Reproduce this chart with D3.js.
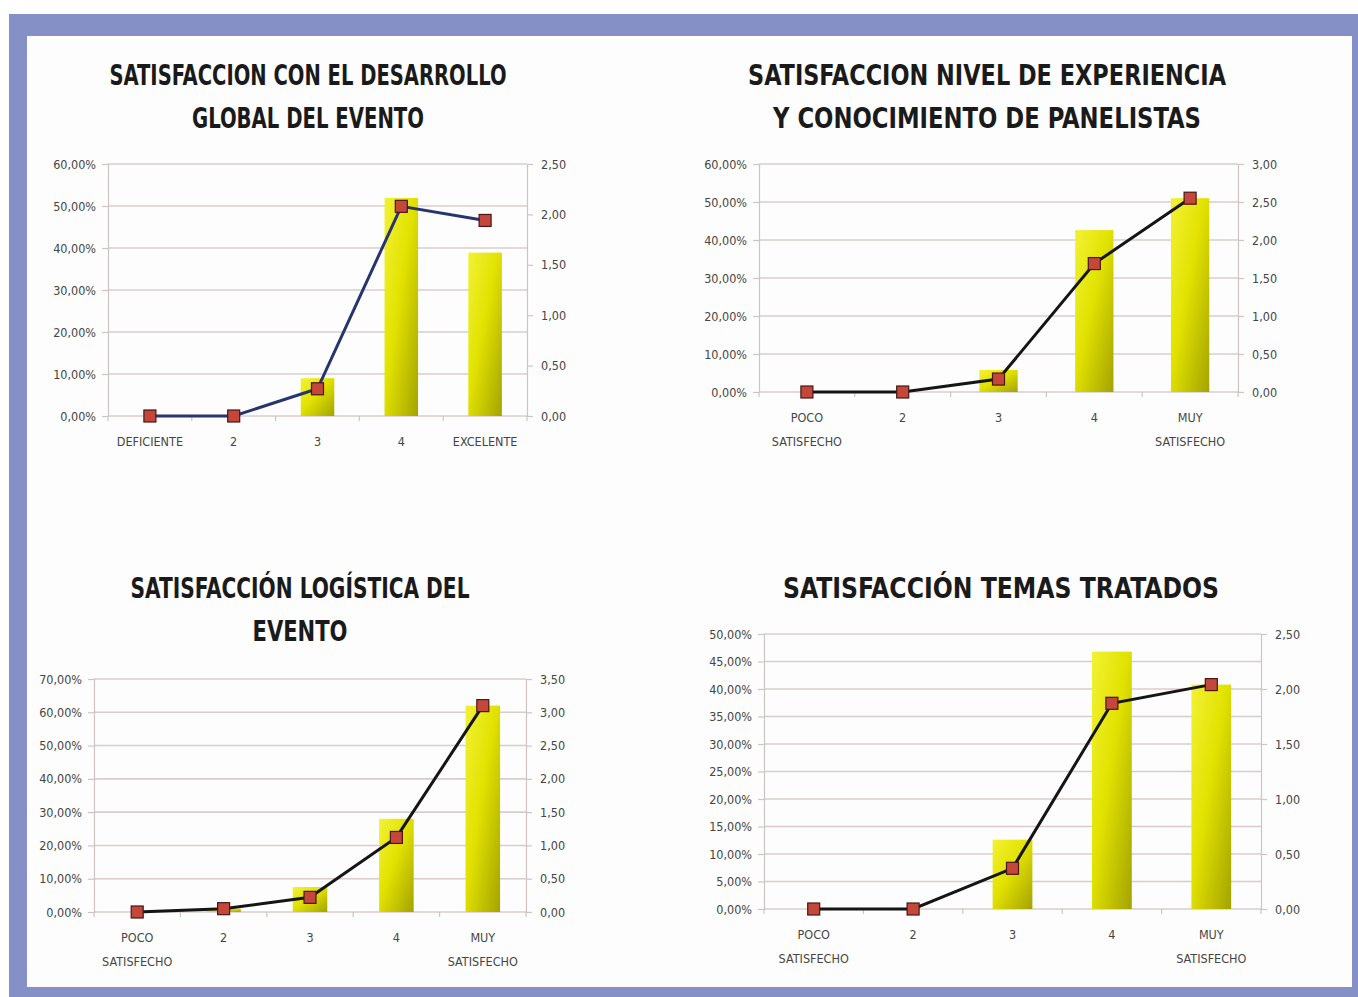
<!DOCTYPE html>
<html>
<head>
<meta charset="utf-8">
<script src="https://cdn.jsdelivr.net/npm/d3@7"></script>
<style>
  html, body { margin: 0; padding: 0; background: #ffffff; }
  svg { display: block; }
  .tick text { font-family: "Liberation Sans Narrow", "DejaVu Sans Condensed", sans-serif; font-size: 12.5px; fill: #454545; }
  .title { font-family: "Liberation Sans Narrow", "DejaVu Sans Condensed", sans-serif; font-weight: bold; font-size: 29px; fill: #1a1a1a; }
  .cat { font-family: "Liberation Sans Narrow", "DejaVu Sans Condensed", sans-serif; font-size: 12.5px; fill: #454545; }
</style>
</head>
<body>
<div id="chart"></div>
<script>
// categories
var catsGlobal = ["DEFICIENTE", "2", "3", "4", "EXCELENTE"];
var catsSatis = ["POCO|SATISFECHO", "2", "3", "4", "MUY|SATISFECHO"];

// % of answers (bars, left axis)
var pctGlobal    = [0, 0, 9.0, 51.9, 38.9];
var pctPanel     = [0, 0, 5.8, 42.6, 51.0];
var pctLogistica = [0, 1.0, 7.5, 28.0, 62.0];
var pctTemas     = [0, 0, 12.6, 46.8, 40.8];

// weighted score (line, right axis)
var scoreGlobal    = [0, 0, 0.27, 2.08, 1.94];
var scorePanel     = [0, 0, 0.17, 1.69, 2.55];
var scoreLogistica = [0, 0.05, 0.22, 1.12, 3.10];
var scoreTemas     = [0, 0, 0.37, 1.87, 2.04];

// titles
var titleGlobal    = ["SATISFACCION CON EL DESARROLLO", "GLOBAL DEL EVENTO"];
var titlePanel     = ["SATISFACCION NIVEL DE EXPERIENCIA", "Y CONOCIMIENTO DE PANELISTAS"];
var titleLogistica = ["SATISFACCIÓN LOGÍSTICA DEL", "EVENTO"];
var titleTemas     = ["SATISFACCIÓN TEMAS TRATADOS"];

var W = 1358, H = 997;
var es = d3.formatLocale({decimal: ",", thousands: ".", grouping: [3], currency: ["", "€"]});
var f2 = es.format(".2f");

var svg = d3.select("#chart").append("svg")
    .attr("width", W).attr("height", H);

// frame
svg.append("rect").attr("x", 9).attr("y", 14).attr("width", W - 9).attr("height", H - 14).attr("fill", "#8490c6");
svg.append("rect").attr("x", 27).attr("y", 36).attr("width", 1352 - 27).attr("height", 987 - 36).attr("fill", "#fdfdfd");

var defs = svg.append("defs");
var grad = defs.append("linearGradient").attr("id", "barGrad")
    .attr("x1", "0").attr("y1", "0").attr("x2", "1").attr("y2", "1");
grad.append("stop").attr("offset", "0%").attr("stop-color", "#f2f236");
grad.append("stop").attr("offset", "45%").attr("stop-color", "#e2e200");
grad.append("stop").attr("offset", "100%").attr("stop-color", "#a3a300");

function drawChart(o) {
  var g = svg.append("g");
  var x = d3.scaleBand().domain(d3.range(o.cats.length)).range([o.left, o.right]);
  var yL = d3.scaleLinear().domain([0, o.maxL]).range([o.bottom, o.top]);
  var yR = d3.scaleLinear().domain([0, o.maxR]).range([o.bottom, o.top]);
  var ticksL = d3.range(0, o.maxL + 0.001, o.stepL);
  var ticksR = d3.range(0, o.maxR + 0.001, 0.5);

  // gridlines
  g.selectAll(".grid").data(ticksL).enter().append("line")
    .attr("x1", o.left).attr("x2", o.right)
    .attr("y1", function(d) { return yL(d); }).attr("y2", function(d) { return yL(d); })
    .attr("stroke", "#d8cccc").attr("stroke-width", 1.6);

  // left axis
  var axL = g.append("g").attr("transform", "translate(" + o.left + ",0)")
    .call(d3.axisLeft(yL).tickValues(ticksL).tickSize(6).tickPadding(6)
      .tickFormat(function(d) { return f2(d) + "%"; }));
  // right axis
  var axR = g.append("g").attr("transform", "translate(" + o.right + ",0)")
    .call(d3.axisRight(yR).tickValues(ticksR).tickSize(6).tickPadding(8)
      .tickFormat(function(d) { return f2(d); }));
  [axL, axR].forEach(function(a) {
    a.select(".domain").attr("stroke", "#cfc4c4").attr("stroke-width", 1.2);
    a.selectAll(".tick line").attr("stroke", "#cfc4c4").attr("stroke-width", 1.2);
  });

  // bottom category ticks
  g.selectAll(".ctick").data(d3.range(o.cats.length + 1)).enter().append("line")
    .attr("x1", function(i) { return o.left + i * x.step(); })
    .attr("x2", function(i) { return o.left + i * x.step(); })
    .attr("y1", o.bottom).attr("y2", o.bottom + 5)
    .attr("stroke", "#cfc4c4").attr("stroke-width", 1.2);

  // bars
  var bw = x.bandwidth() * 0.4;
  g.selectAll(".bar").data(o.pct).enter().append("rect")
    .attr("x", function(d, i) { return x(i) + x.bandwidth() / 2 - bw / 2; })
    .attr("y", function(d) { return yL(d); })
    .attr("width", bw)
    .attr("height", function(d) { return o.bottom - yL(d); })
    .attr("fill", "url(#barGrad)");

  // line
  g.append("path").datum(o.score)
    .attr("fill", "none")
    .attr("stroke", o.lineColor)
    .attr("stroke-width", 3)
    .attr("d", d3.line()
      .x(function(d, i) { return x(i) + x.bandwidth() / 2; })
      .y(function(d) { return yR(d); }));

  g.selectAll(".mk").data(o.score).enter().append("rect")
    .attr("x", function(d, i) { return x(i) + x.bandwidth() / 2 - 6; })
    .attr("y", function(d) { return yR(d) - 6; })
    .attr("width", 12).attr("height", 12)
    .attr("fill", "#c4473c").attr("stroke", "#4a1616").attr("stroke-width", 1.2);

  // category labels
  o.cats.forEach(function(c, i) {
    var parts = c.split("|");
    var t = g.append("text").attr("class", "cat")
      .attr("text-anchor", "middle")
      .attr("x", x(i) + x.bandwidth() / 2)
      .attr("y", o.bottom + 30);
    parts.forEach(function(p, k) {
      t.append("tspan").attr("x", x(i) + x.bandwidth() / 2)
        .attr("dy", k === 0 ? 0 : 24).text(p);
    });
  });

  // title
  o.title.forEach(function(line, k) {
    g.append("text").attr("class", "title")
      .attr("text-anchor", "middle")
      .attr("x", o.titleX)
      .attr("y", o.titleY + k * 43)
      .attr("textLength", o.titleW[k])
      .attr("lengthAdjust", "spacingAndGlyphs")
      .text(line);
  });
}

drawChart({cats: catsGlobal, pct: pctGlobal, score: scoreGlobal, title: titleGlobal,
  left: 108, right: 527, top: 164, bottom: 416, maxL: 60, stepL: 10, maxR: 2.5,
  lineColor: "#27356e", titleX: 308, titleY: 85, titleW: [397, 232]});

drawChart({cats: catsSatis, pct: pctPanel, score: scorePanel, title: titlePanel,
  left: 759, right: 1238, top: 164, bottom: 392, maxL: 60, stepL: 10, maxR: 3,
  lineColor: "#151515", titleX: 987, titleY: 85, titleW: [478, 428]});

drawChart({cats: catsSatis, pct: pctLogistica, score: scoreLogistica, title: titleLogistica,
  left: 94, right: 526, top: 679, bottom: 912, maxL: 70, stepL: 10, maxR: 3.5,
  lineColor: "#151515", titleX: 300, titleY: 598, titleW: [339, 95]});

drawChart({cats: catsSatis, pct: pctTemas, score: scoreTemas, title: titleTemas,
  left: 764, right: 1261, top: 634, bottom: 909, maxL: 50, stepL: 5, maxR: 2.5,
  lineColor: "#151515", titleX: 1001, titleY: 598, titleW: [436]});
</script>
</body>
</html>
